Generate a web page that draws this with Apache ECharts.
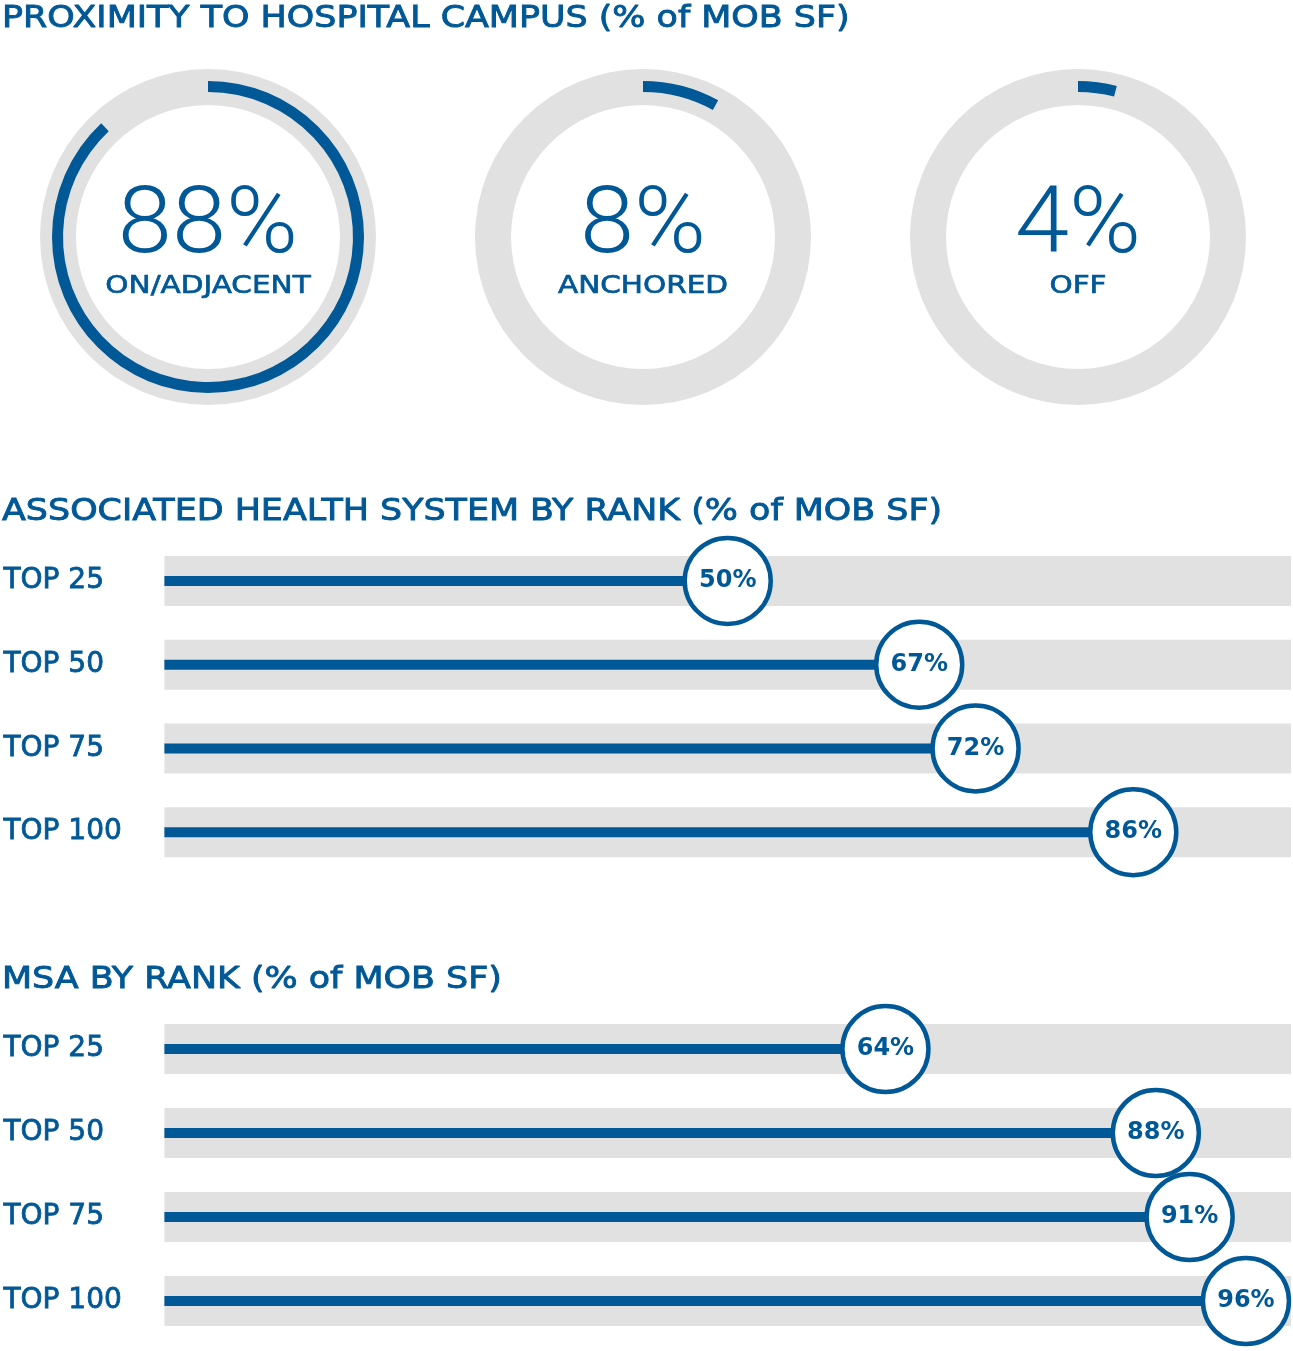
<!DOCTYPE html>
<html>
<head>
<meta charset="utf-8">
<script src="https://cdn.jsdelivr.net/npm/echarts@6/dist/echarts.min.js"></script>
<style>
html,body{margin:0;padding:0;background:#fff;}
#chart{width:1293px;height:1351px;}
</style>
</head>
<body>
<div id="chart"></div>
<script>
// ---- data ----
const sectionTitles = [
  'PROXIMITY TO HOSPITAL CAMPUS (% of MOB SF)',
  'ASSOCIATED HEALTH SYSTEM BY RANK (% of MOB SF)',
  'MSA BY RANK (% of MOB SF)'
];
const ringLabels = ['ON/ADJACENT', 'ANCHORED', 'OFF'];
const ringValues = [88, 8, 4];
const rankCategories = ['TOP 25', 'TOP 50', 'TOP 75', 'TOP 100'];
const healthSystemValues = [50, 67, 72, 86];
const msaValues = [64, 88, 91, 96];

// ---- style ----
const BLUE = '#005896';
const GRAY = '#e1e1e1';
const FONT = '"DejaVu Sans", sans-serif';

const ringCentersX = [208, 643, 1078];
const ringCenterY = 237;

const chart = echarts.init(document.getElementById('chart'), null, {renderer: 'canvas'});

const series = [];
const graphic = [];

// section titles
const titleY = [19, 512, 980];
sectionTitles.forEach((t, i) => {
  graphic.push({
    type: 'text', x: 2, y: titleY[i], scaleX: 1.125,
    style: {text: t, fill: BLUE, stroke: BLUE, lineWidth: 0.9, font: 'normal 31px ' + FONT, textVerticalAlign: 'middle'}
  });
});

// rings
ringValues.forEach((v, i) => {
  const c = [ringCentersX[i], ringCenterY];
  series.push({
    type: 'pie', center: c, radius: [132, 168], silent: true,
    label: {show: false}, labelLine: {show: false}, emphasis: {disabled: true},
    itemStyle: {color: GRAY}, data: [{value: 100}], animation: false
  });
  series.push({
    type: 'pie', center: c, radius: [145, 156], silent: true, startAngle: 90, clockwise: true,
    label: {show: false}, labelLine: {show: false}, emphasis: {disabled: true},
    data: [
      {value: v, itemStyle: {color: BLUE}},
      {value: 100 - v, itemStyle: {color: 'rgba(0,0,0,0)'}}
    ],
    animation: false, z: 3
  });
  graphic.push({
    type: 'text', x: c[0], y: 229, scaleX: 1.06,
    style: {text: v + '%', fill: BLUE, font: '300 92px Roboto, sans-serif', textAlign: 'center', textVerticalAlign: 'middle'}
  });
  graphic.push({
    type: 'text', x: c[0], y: 286, scaleX: 1.18,
    style: {text: ringLabels[i], fill: BLUE, stroke: BLUE, lineWidth: 0.7, font: 'normal 25px ' + FONT, textAlign: 'center', textVerticalAlign: 'middle'}
  });
});

// bar grids
const grids = [
  {left: 163, right: 2, top: 539, height: 335},
  {left: 163, right: 2, top: 1007, height: 336}
];
const xAxes = grids.map((g, i) => ({
  type: 'value', gridIndex: i, min: 0, max: 100, show: false
}));
const yAxes = [];
grids.forEach((g, i) => {
  yAxes.push({
    type: 'category', gridIndex: i, data: rankCategories, inverse: true,
    axisLine: {show: false}, axisTick: {show: false}, splitLine: {show: false},
    axisLabel: {align: 'left', margin: 161, color: BLUE, fontFamily: FONT, fontWeight: 'normal', fontSize: 28,
      textBorderColor: BLUE, textBorderWidth: 0.8}
  });
  yAxes.push({
    type: 'category', gridIndex: i, data: rankCategories, inverse: true, show: false
  });
});

[healthSystemValues, msaValues].forEach((vals, gi) => {
  series.push({
    type: 'bar', xAxisIndex: gi, yAxisIndex: gi * 2, barWidth: 50, silent: true,
    itemStyle: {color: GRAY}, data: rankCategories.map(() => 100), animation: false
  });
  series.push({
    type: 'bar', xAxisIndex: gi, yAxisIndex: gi * 2 + 1, barWidth: 10, silent: true,
    itemStyle: {color: BLUE}, data: vals, animation: false, z: 3
  });
  series.push({
    type: 'scatter', xAxisIndex: gi, yAxisIndex: gi * 2, symbol: 'circle', symbolSize: 86, silent: true,
    itemStyle: {color: '#fff', borderColor: BLUE, borderWidth: 4.5, opacity: 1},
    label: {show: true, position: 'inside', color: BLUE, fontFamily: FONT, fontWeight: 'bold', fontSize: 24,
      formatter: p => p.value[0] + '%'},
    data: vals.map((v, k) => [v, k]), animation: false, z: 5
  });
});

chart.setOption({
  backgroundColor: '#fff',
  animation: false,
  grid: grids,
  xAxis: xAxes,
  yAxis: yAxes,
  series: series,
  graphic: graphic
});
</script>
</body>
</html>
